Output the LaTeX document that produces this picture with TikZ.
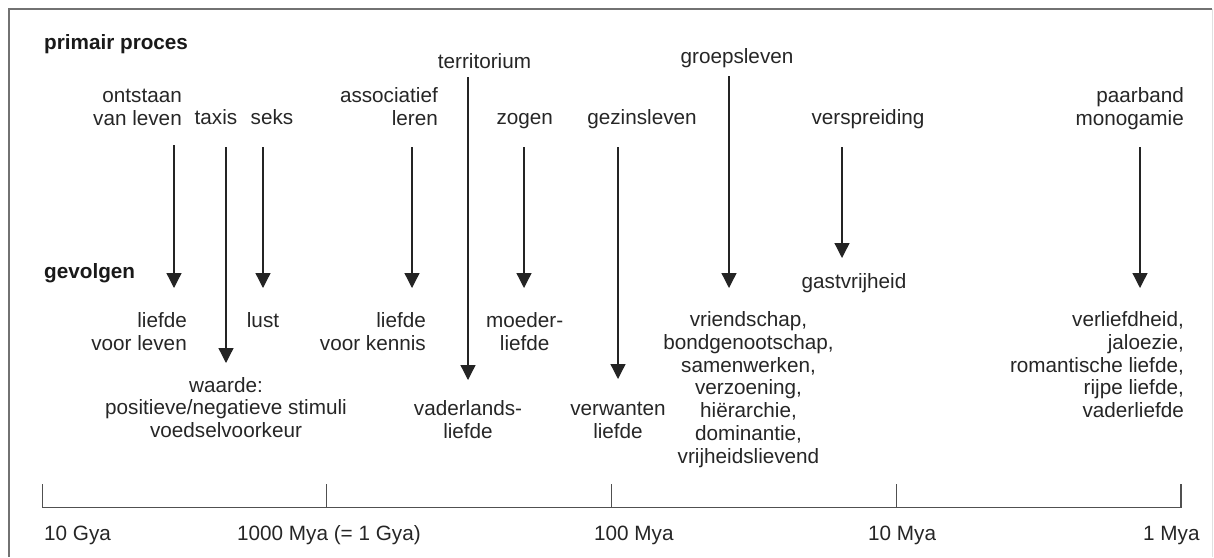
\documentclass[tikz,border=0pt]{standalone}
\usepackage{fontspec}
\setmainfont{Liberation Sans}
\usetikzlibrary{arrows.meta}
\definecolor{txt}{HTML}{262626}
\definecolor{frm}{HTML}{727272}
\definecolor{arr}{HTML}{242424}
\definecolor{axc}{HTML}{505050}
\newcommand\asc{\vphantom{lhd}}
\begin{document}
\begin{tikzpicture}[x=1pt,y=-1pt,
  lbl/.style={inner sep=0pt, font=\fontsize{20.7}{22.8}\selectfont, text=txt, align=center, anchor=north},
  lblr/.style={lbl, align=right, anchor=north east},
  lbll/.style={lbl, align=left, anchor=north west},
  hdr/.style={lbll, font=\fontsize{20.7}{22.8}\selectfont\bfseries, text=black!90},
  arrow/.style={draw=arr, line width=1.3pt, -{Triangle[width=15pt,length=15pt]}},
  axis/.style={draw=axc, line width=1.3pt},
  frame/.style={draw=frm, line width=2pt}]
\useasboundingbox[fill=white] (0,0) rectangle (1214,557);
% frame
\coordinate (fbl) at (8.5,557);
\coordinate (ftl) at (8.5,8.5);
\coordinate (ftr) at (1212,8.5);
\coordinate (fbr) at (1212,557);
\draw[frame] (fbl) -- (ftl) -- (ftr);
\draw[draw=black!12, line width=1pt] (ftr) -- (fbr);

% headers
\node[hdr] (pp) at (44,34.2) {\asc primair proces};
\node[hdr] (gev) at (44,263.2) {\asc gevolgen};

% primary processes
\node[lblr] (ontstaan) at (182,87.2) {\asc ontstaan\\van leven};
\node[lbl] (taxis) at (216,109.2) {\asc taxis};
\node[lbl] (seks) at (272,109.2) {\asc seks};
\node[lblr] (assoc) at (438,87.2) {\asc associatief\\leren};
\node[lbl] (terr) at (484.5,53.2) {\asc territorium};
\node[lbl] (zogen) at (524.7,109.2) {\asc zogen};
\node[lbl] (gezin) at (642,109.2) {\asc gezinsleven};
\node[lbl] (groep) at (737,48.2) {\asc groepsleven};
\node[lbl] (versp) at (868,109.2) {\asc verspreiding};
\node[lblr] (paar) at (1184,87.2) {\asc paarband\\monogamie};

% consequences
\node[lblr] (lleven) at (187,312.2) {\asc liefde\\voor leven};
\node[lbl] (lust) at (263,312.2) {\asc lust};
\node[lbl] (waarde) at (226,376.9) {\asc waarde:\\positieve/negatieve stimuli\\voedselvoorkeur};
\node[lblr] (lkennis) at (426,312.2) {\asc liefde\\voor kennis};
\node[lbl] (moeder) at (524.7,312.2) {\asc moeder-\\liefde};
\node[lbl] (vaderl) at (468,400.2) {\asc vaderlands-\\liefde};
\node[lbl] (verw) at (618,400.2) {\asc verwanten\\liefde};
\node[lbl] (vriend) at (748.5,311.2) {\asc vriendschap,\\bondgenootschap,\\samenwerken,\\verzoening,\\hiërarchie,\\dominantie,\\vrijheidslievend};
\node[lbl] (gast) at (854,273.2) {\asc gastvrijheid};
\node[lblr] (verl) at (1184,311.2) {\asc verliefdheid,\\jaloezie,\\romantische liefde,\\rijpe liefde,\\vaderliefde};

% arrow end points
\coordinate (a1s) at (174,145);   \coordinate (a1e) at (174,288);
\coordinate (a2s) at (226,147);   \coordinate (a2e) at (226,363);
\coordinate (a3s) at (263,147);   \coordinate (a3e) at (263,288);
\coordinate (a4s) at (412,147);   \coordinate (a4e) at (412,288);
\coordinate (a5s) at (468,77);    \coordinate (a5e) at (468,380);
\coordinate (a6s) at (524,147);   \coordinate (a6e) at (524,288);
\coordinate (a7s) at (618,147);   \coordinate (a7e) at (618,379);
\coordinate (a8s) at (729,76);    \coordinate (a8e) at (729,288);
\coordinate (a9s) at (842,147);   \coordinate (a9e) at (842,258);
\coordinate (a10s) at (1140,147); \coordinate (a10e) at (1140,288);
\draw[arrow] (a1s) -- (a1e);
\draw[arrow] (a2s) -- (a2e);
\draw[arrow] (a3s) -- (a3e);
\draw[arrow] (a4s) -- (a4e);
\draw[arrow] (a5s) -- (a5e);
\draw[arrow] (a6s) -- (a6e);
\draw[arrow] (a7s) -- (a7e);
\draw[arrow] (a8s) -- (a8e);
\draw[arrow] (a9s) -- (a9e);
\draw[arrow] (a10s) -- (a10e);

% time axis
\coordinate (t0) at (42.3,507.7);
\coordinate (t1) at (326.7,507.7);
\coordinate (t2) at (611.7,507.7);
\coordinate (t3) at (896.7,507.7);
\coordinate (t4) at (1181,507.7);
\draw[axis] (t0) -- (t4);
\foreach \t in {t0,t1,t2,t3,t4} \draw[axis] (\t) -- ++(0,-24);

\node[lbll] (l0) at (44,525.2) {\asc 10 Gya};
\node[lbll] (l1) at (237,525.2) {\asc 1000 Mya (= 1 Gya)};
\node[lbll] (l2) at (594,525.2) {\asc 100 Mya};
\node[lbll] (l3) at (868,525.2) {\asc 10 Mya};
\node[lbll] (l4) at (1143,525.2) {\asc 1 Mya};
\end{tikzpicture}
\end{document}
